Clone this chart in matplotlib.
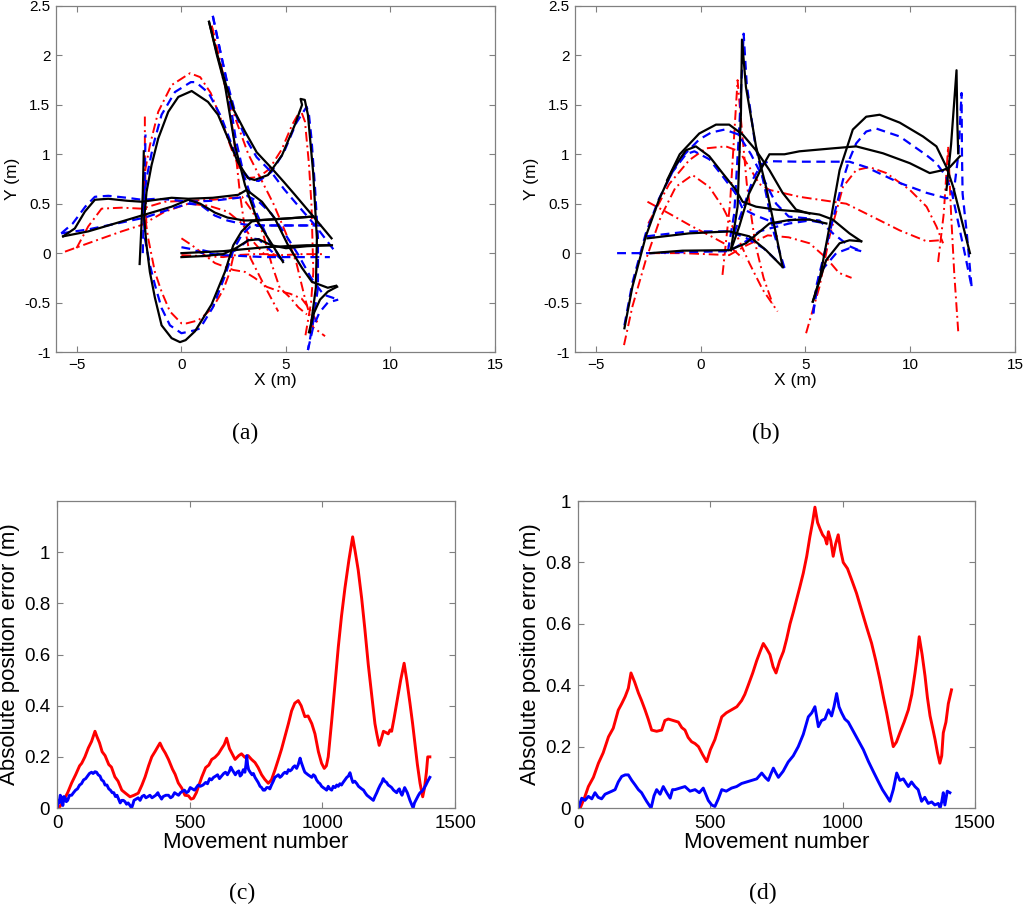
import matplotlib
matplotlib.use("Agg")
import matplotlib.pyplot as plt
from matplotlib.ticker import FormatStrFormatter

plt.rcParams['font.family'] = ['Liberation Sans', 'DejaVu Sans']

# ---- (a) trajectories: ground truth (black), estimate 1 (blue), estimate 2 (red)
a_true = [
    [(-5.66, 0.17), (-5.1, 0.25), (-4.62, 0.42), (-4.14, 0.54), (-3.5, 0.55), (-2.6, 0.53), (-1.9, 0.52),
     (-1.2, 0.54), (-0.47, 0.56), (0.33, 0.55), (1.5, 0.56), (2.72, 0.59), (3.12, 0.64), (3.85, 0.52),
     (4.47, 0.35), (5.1, 0.08), (5.77, -0.15), (6.24, -0.29), (7.0, -0.35), (7.4, -0.33)],
    [(-5.66, 0.17), (-4.46, 0.22), (-2.86, 0.32), (-1.75, 0.39), (-0.47, 0.47), (0.33, 0.54), (0.9, 0.5),
     (1.6, 0.41), (2.2, 0.36), (3.0, 0.33), (3.84, 0.335), (5.0, 0.35), (6.3, 0.37)],
    [(1.32, 2.34), (1.7, 2.0), (2.08, 1.7), (2.56, 1.09), (3.04, 0.69), (3.66, 0.315), (4.3, 0.1), (4.86, -0.09)],
    [(1.32, 2.34), (1.7, 2.02), (2.08, 1.74), (2.5, 1.45), (3.04, 1.23), (3.6, 1.02), (4.31, 0.86),
     (4.9, 0.72), (5.43, 0.59), (6.39, 0.35), (7.18, 0.15)],
    [(-2.0, -0.11), (-1.93, 0.2), (-1.85, 0.6), (-1.8, 1.03)],
    [(6.3, 0.37), (5.0, 0.35), (3.84, 0.335), (3.36, 0.32), (2.88, 0.22), (2.48, 0.08), (2.08, -0.19),
     (1.44, -0.52), (0.65, -0.79), (0.2, -0.88), (-0.07, -0.9), (-0.47, -0.86), (-0.95, -0.73),
     (-1.27, -0.45), (-1.51, -0.19), (-1.67, 0.08), (-1.78, 0.35), (-1.67, 0.62), (-1.43, 0.89),
     (-1.11, 1.16), (-0.63, 1.43), (-0.15, 1.58), (0.49, 1.64), (1.27, 1.53), (1.75, 1.40), (2.23, 1.16),
     (2.7, 0.92), (3.18, 0.76), (3.5, 0.74), (4.14, 0.79), (4.81, 0.99), (5.43, 1.30), (5.77, 1.50),
     (5.7, 1.56), (5.9, 1.55), (6.05, 1.4), (6.3, 0.82), (6.48, 0.15), (6.43, -0.35), (6.15, -0.80)],
    [(0.0, 0.0), (1.0, 0.01), (2.0, 0.02), (3.0, 0.04), (4.0, 0.06), (5.0, 0.07), (6.0, 0.08), (7.2, 0.08)],
    [(0.0, -0.04), (1.0, -0.03), (2.0, -0.01), (2.6, 0.05), (3.2, 0.13), (3.7, 0.14), (4.3, 0.08),
     (5.0, 0.05), (6.0, 0.07), (7.1, 0.08)],
    [(6.1, -0.8), (6.35, -0.6), (6.63, -0.47), (7.0, -0.39), (7.26, -0.36), (7.45, -0.34)],
]
a_est1 = [
    [(-5.75, 0.2), (-5.2, 0.3), (-4.6, 0.47), (-4.14, 0.57), (-3.5, 0.58), (-2.6, 0.56), (-1.9, 0.54),
     (-1.2, 0.55), (-0.47, 0.54), (0.33, 0.52), (1.5, 0.53), (2.72, 0.56), (3.12, 0.58), (3.7, 0.52),
     (4.3, 0.40), (5.0, 0.18), (5.6, -0.02), (6.2, -0.25), (6.8, -0.42), (7.5, -0.47)],
    [(-5.75, 0.2), (-4.46, 0.24), (-2.86, 0.31), (-1.75, 0.36), (-0.47, 0.45), (0.33, 0.5), (0.9, 0.49),
     (1.6, 0.38), (2.2, 0.33), (3.0, 0.29), (3.84, 0.28), (5.0, 0.28), (6.07, 0.28), (6.9, 0.28)],
    [(1.5, 2.4), (1.85, 2.05), (2.2, 1.7), (2.6, 1.15), (3.0, 0.78), (3.6, 0.4), (4.2, 0.12), (4.9, -0.1)],
    [(1.5, 2.4), (1.85, 2.05), (2.2, 1.72), (2.6, 1.4), (3.1, 1.15), (3.6, 0.97), (4.3, 0.82), (4.9, 0.65),
     (5.5, 0.5), (6.4, 0.28), (7.3, 0.03)],
    [(-1.85, 0.0), (-1.8, 0.4), (-1.75, 0.8), (-1.72, 1.2)],
    [(6.07, 0.28), (3.84, 0.28), (3.3, 0.27), (2.9, 0.19), (2.5, 0.04), (2.1, -0.22), (1.5, -0.55),
     (0.89, -0.76), (0.65, -0.78), (0.0, -0.81), (-0.55, -0.73), (-0.95, -0.555), (-1.27, -0.32),
     (-1.51, -0.12), (-1.75, 0.15), (-1.83, 0.49), (-1.67, 0.76), (-1.35, 1.09), (-0.95, 1.40),
     (-0.31, 1.63), (0.45, 1.73), (0.69, 1.73), (1.3, 1.62), (1.9, 1.38), (2.4, 1.1), (2.9, 0.84),
     (3.3, 0.74), (3.7, 0.73), (4.3, 0.82), (4.9, 1.02), (5.5, 1.32), (5.99, 1.48), (6.1, 1.4),
     (6.22, 1.16), (6.39, 0.66), (6.53, 0.15), (6.53, -0.35), (6.3, -0.7), (6.05, -0.98)],
    [(0.0, 0.06), (0.5, 0.04), (1.0, 0.0), (2.0, -0.02), (3.0, -0.03), (4.0, -0.04), (5.0, -0.04),
     (6.0, -0.04), (7.1, -0.04)],
    [(1.0, 0.03), (2.0, -0.02), (2.6, 0.03), (3.3, 0.15), (3.7, 0.14), (4.3, 0.02), (4.9, -0.08)],
    [(6.05, -0.98), (6.3, -0.75), (6.6, -0.6), (7.0, -0.5), (7.5, -0.47)],
]
a_est2 = [
    [(-5.02, 0.05), (-4.46, 0.27), (-3.82, 0.45), (-2.86, 0.46), (-1.9, 0.45), (-0.79, 0.52), (0.33, 0.53),
     (1.5, 0.54), (2.5, 0.56), (2.9, 0.57), (3.4, 0.42), (3.9, 0.2), (4.3, -0.1), (4.7, -0.35),
     (5.2, -0.45), (5.6, -0.55), (6.0, -0.62)],
    [(-5.57, 0.015), (-4.46, 0.10), (-2.86, 0.22), (-1.9, 0.285), (-0.79, 0.42), (0.33, 0.50), (1.3, 0.48),
     (2.2, 0.42), (2.9, 0.3), (3.5, 0.1), (4.0, -0.02), (4.8, -0.02), (5.8, -0.01), (6.9, -0.01)],
    [(1.45, 2.3), (1.9, 1.9), (2.3, 1.5), (2.6, 1.0), (2.8, 0.6), (3.0, 0.3), (3.3, -0.05), (3.9, -0.3),
     (4.63, -0.59)],
    [(1.45, 2.3), (2.0, 1.75), (2.6, 1.35), (3.2, 1.0), (3.8, 0.75), (4.4, 0.5), (5.0, 0.2), (5.5, -0.1),
     (5.9, -0.45), (6.3, -0.75), (6.87, -0.84)],
    [(-1.68, 0.3), (-1.72, 0.7), (-1.75, 1.0), (-1.75, 1.41)],
    [(2.48, -0.035), (2.3, -0.2), (2.0, -0.37), (1.5, -0.55), (1.2, -0.61), (0.8, -0.68), (0.25, -0.71),
     (0.0, -0.71), (-0.55, -0.59), (-0.95, -0.39), (-1.27, -0.19), (-1.59, 0.15), (-1.83, 0.49),
     (-1.75, 0.82), (-1.51, 1.09), (-1.11, 1.43), (-0.47, 1.70), (0.41, 1.82), (0.9, 1.78), (1.4, 1.62),
     (1.9, 1.35), (2.4, 1.05), (2.8, 0.85), (3.2, 0.76), (3.7, 0.77), (4.2, 0.85), (4.8, 1.05), (5.3, 1.3),
     (5.7, 1.45), (5.91, 1.33), (6.1, 0.9), (6.22, 0.49), (6.31, -0.19), (6.2, -0.5), (5.91, -0.86)],
    [(0.0, -0.02), (1.0, -0.03), (2.0, -0.04), (2.6, -0.02), (3.5, -0.01), (4.5, -0.01)],
    [(0.0, 0.15), (0.5, 0.08), (1.0, 0.0), (1.6, -0.1), (2.48, -0.17), (3.04, -0.19), (3.5, -0.25),
     (4.07, -0.34), (4.6, -0.38), (5.19, -0.41), (5.75, -0.46), (6.15, -0.57), (6.5, -0.7)],
]

# ---- (b) trajectories
b_true = [
    [(-3.64, -0.76), (-3.26, -0.34), (-2.62, 0.17), (-1.99, 0.54), (-1.35, 0.84), (-0.71, 1.04),
     (-0.23, 1.08), (0.41, 0.98), (1.04, 0.81), (1.68, 0.64), (2.0, 0.52), (2.64, 0.47), (3.6, 0.44),
     (4.71, 0.42), (5.67, 0.39), (6.3, 0.34), (7.1, 0.2), (7.66, 0.12)],
    [(-1.6, 0.74), (-1.0, 1.0), (-0.07, 1.21), (0.73, 1.30), (1.36, 1.30), (2.0, 1.2), (2.64, 1.04),
     (3.28, 0.84), (3.91, 0.61), (4.55, 0.44), (5.19, 0.40)],
    [(1.44, 0.03), (1.76, 0.47), (1.92, 1.41), (1.97, 2.16), (2.16, 1.68), (2.64, 1.08), (3.12, 0.67),
     (3.52, 0.27), (3.91, -0.14)],
    [(-2.54, 0.15), (-0.55, 0.20), (1.36, 0.22), (2.32, 0.17), (3.12, 0.03), (3.91, -0.14)],
    [(-2.4, 0.0), (-0.87, 0.025), (1.36, 0.03), (2.16, 0.1), (3.28, 0.3), (4.23, 0.335), (5.19, 0.34),
     (6.0, 0.3)],
    [(1.44, 0.03), (1.84, 0.27), (2.3, 0.6), (2.9, 0.86), (3.28, 1.0), (4.0, 1.0), (4.71, 1.03),
     (6.3, 1.06), (7.42, 1.08), (8.7, 1.01), (9.98, 0.91), (10.93, 0.81), (11.57, 0.84), (11.89, 0.87),
     (12.37, 0.98)],
    [(5.35, -0.49), (5.67, -0.27), (6.15, 0.27), (6.63, 0.84), (7.26, 1.25), (7.9, 1.38), (8.54, 1.40),
     (9.5, 1.32), (10.61, 1.18), (11.25, 1.08), (11.73, 0.87), (12.05, 0.67), (12.53, 0.27), (12.85, 0.0)],
    [(5.35, -0.49), (5.99, -0.07), (6.63, 0.1), (7.1, 0.13), (7.66, 0.12)],
    [(11.73, 0.64), (11.95, 1.1), (12.21, 1.85), (12.25, 1.3), (12.29, 1.01)],
]
b_est1 = [
    [(-3.64, -0.73), (-3.26, -0.30), (-2.62, 0.2), (-1.99, 0.55), (-1.35, 0.82), (-0.71, 1.0), (-0.3, 1.03),
     (0.41, 0.95), (1.04, 0.78), (1.68, 0.6), (2.0, 0.45), (2.64, 0.38), (3.6, 0.3), (4.71, 0.35),
     (5.67, 0.33), (6.31, 0.2), (7.1, 0.07), (7.66, 0.02)],
    [(-1.6, 0.72), (-1.0, 0.95), (-0.07, 1.15), (0.5, 1.22), (1.14, 1.25), (1.8, 1.2), (2.4, 1.0),
     (3.0, 0.75), (3.6, 0.5), (4.2, 0.37), (5.19, 0.35)],
    [(1.3, 0.02), (1.6, 0.4), (1.85, 1.3), (2.05, 2.22), (2.2, 1.7), (2.6, 1.1), (3.1, 0.62), (3.5, 0.2),
     (4.0, -0.15)],
    [(-2.6, 0.17), (-0.55, 0.22), (1.36, 0.22), (2.2, 0.15), (3.0, 0.05), (4.0, -0.15)],
    [(-3.99, 0.0), (-2.4, 0.0), (-0.87, 0.01), (1.36, 0.02), (2.16, 0.12), (2.8, 0.22), (3.3, 0.25),
     (4.23, 0.3), (5.19, 0.33), (6.0, 0.3)],
    [(1.6, 0.2), (2.1, 0.5), (2.5, 0.75), (2.9, 0.9), (3.28, 0.93), (4.71, 0.925), (7.1, 0.925), (7.9, 0.87),
     (9.5, 0.71), (10.78, 0.61), (11.73, 0.555), (12.05, 0.57)],
    [(5.37, -0.61), (5.51, -0.34), (6.31, 0.34), (6.79, 0.74), (7.1, 0.95), (7.42, 1.11), (7.9, 1.23),
     (8.38, 1.26), (9.5, 1.18), (10.78, 0.99), (11.25, 0.91), (11.73, 0.77), (12.0, 0.6), (12.3, 0.3),
     (12.6, 0.0), (12.93, -0.34)],
    [(5.37, -0.61), (5.67, -0.2), (6.47, 0.0), (7.1, 0.05), (7.66, 0.02)],
    [(12.05, 0.57), (12.3, 1.0), (12.45, 1.62), (12.47, 1.0), (12.5, 0.6), (12.7, 0.2), (12.93, -0.34)],
]
b_est2 = [
    [(-3.66, -0.93), (-3.26, -0.54), (-2.62, -0.07), (-1.9, 0.37), (-1.19, 0.67), (-0.39, 0.79),
     (0.41, 0.67), (1.04, 0.47), (1.68, 0.20), (2.32, -0.10), (2.96, -0.37), (3.67, -0.59)],
    [(-2.5, 0.3), (-1.5, 0.7), (-0.55, 0.94), (0.25, 1.06), (1.2, 1.08), (1.84, 1.03), (2.32, 0.87),
     (2.8, 0.7), (3.28, 0.64), (4.71, 0.57), (6.95, 0.5), (7.9, 0.40), (9.5, 0.23), (10.78, 0.12),
     (11.41, 0.13)],
    [(1.04, -0.22), (1.4, 0.5), (1.6, 1.2), (1.76, 1.75), (1.9, 1.4), (2.2, 0.7), (2.6, 0.1), (3.0, -0.25),
     (3.43, -0.51)],
    [(-2.54, 0.52), (-1.5, 0.4), (-0.5, 0.28), (0.5, 0.17), (1.36, 0.07), (2.0, -0.05)],
    [(-2.4, 0.0), (-0.87, 0.0), (1.36, -0.02), (2.2, 0.08), (3.2, 0.18), (4.2, 0.16), (5.19, 0.1),
     (6.0, -0.05), (6.6, -0.2), (7.2, -0.25)],
    [(5.03, -0.81), (5.67, -0.34), (6.15, 0.17), (6.79, 0.67), (7.42, 0.84), (8.06, 0.87), (8.86, 0.81),
     (9.98, 0.64), (10.78, 0.47), (11.25, 0.27), (11.57, 0.1)],
    [(11.33, -0.09), (11.6, 0.4), (11.81, 1.08), (11.95, 0.4), (12.1, -0.2), (12.29, -0.79)],
]

# ---- (c) absolute position error
c_red_x = [0, 10, 20, 30, 40, 55, 70, 85, 93, 105, 118, 130, 143, 150, 160, 170, 181, 195, 205, 218, 230,
           244, 258, 275, 290, 306, 320, 332, 345, 357, 370, 380, 388, 398, 408, 420, 435, 445, 457, 470,
           482, 495, 505, 514, 525, 535, 545, 560, 572, 583, 595, 608, 620, 630, 639, 650, 660, 671, 685,
           695, 708, 720, 733, 746, 758, 771, 783, 796, 808, 821, 834, 846, 859, 872, 884, 896, 909, 920,
           934, 946, 960, 972, 985, 997, 1007, 1015, 1022, 1035, 1048, 1060, 1072, 1085, 1100, 1114, 1124,
           1135, 1148, 1160, 1173, 1186, 1198, 1205, 1214, 1222, 1230, 1240, 1248, 1255, 1261, 1270, 1280,
           1295, 1308, 1318, 1330, 1340, 1349, 1358, 1368, 1378, 1385, 1392, 1397, 1405]
c_red_y = [0.0, 0.005, 0.02, 0.04, 0.06, 0.098, 0.13, 0.165, 0.175, 0.20, 0.235, 0.26, 0.30, 0.28, 0.255,
           0.22, 0.205, 0.17, 0.16, 0.122, 0.105, 0.07, 0.058, 0.044, 0.05, 0.058, 0.09, 0.122, 0.165, 0.20,
           0.222, 0.24, 0.254, 0.232, 0.215, 0.19, 0.152, 0.132, 0.098, 0.078, 0.05, 0.048, 0.035, 0.038,
           0.06, 0.09, 0.12, 0.158, 0.168, 0.19, 0.198, 0.212, 0.232, 0.248, 0.273, 0.232, 0.212, 0.19,
           0.205, 0.212, 0.198, 0.205, 0.19, 0.178, 0.158, 0.13, 0.112, 0.097, 0.11, 0.148, 0.19, 0.23, 0.28,
           0.33, 0.38, 0.41, 0.42, 0.40, 0.357, 0.36, 0.33, 0.29, 0.22, 0.175, 0.155, 0.165, 0.20, 0.34,
           0.49, 0.63, 0.75, 0.86, 0.97, 1.06, 1.0, 0.93, 0.82, 0.70, 0.56, 0.44, 0.33, 0.29, 0.245, 0.27,
           0.30, 0.295, 0.29, 0.305, 0.30, 0.35, 0.41, 0.50, 0.566, 0.50, 0.41, 0.33, 0.25, 0.17, 0.097,
           0.044, 0.08, 0.14, 0.20, 0.20]
c_blue_x = [0, 5, 8, 12, 15, 19, 22, 26, 30, 35, 40, 47, 55, 62, 70, 77, 85, 92, 100, 108, 115, 122, 130,
            136, 143, 149, 155, 162, 168, 175, 181, 188, 195, 201, 208, 214, 220, 226, 232, 238, 244, 250,
            256, 262, 268, 275, 281, 286, 290, 298, 306, 313, 320, 328, 335, 343, 350, 358, 365, 372, 380,
            384, 388, 394, 400, 410, 420, 428, 435, 443, 450, 458, 465, 472, 480, 488, 495, 502, 510, 518,
            525, 532, 540, 550, 560, 567, 575, 582, 590, 598, 605, 612, 620, 628, 635, 642, 650, 655, 660,
            666, 672, 678, 685, 690, 695, 702, 708, 712, 715, 718, 722, 728, 735, 740, 746, 752, 758, 765,
            771, 777, 783, 790, 796, 802, 808, 815, 821, 828, 834, 840, 846, 853, 859, 866, 872, 878, 884,
            890, 896, 903, 909, 913, 916, 920, 925, 930, 934, 940, 946, 953, 960, 966, 972, 978, 985, 991,
            997, 1003, 1010, 1016, 1022, 1028, 1035, 1041, 1048, 1054, 1060, 1066, 1072, 1078, 1085, 1092,
            1098, 1104, 1110, 1115, 1122, 1130, 1136, 1142, 1148, 1155, 1161, 1168, 1174, 1180, 1186, 1192,
            1198, 1205, 1211, 1218, 1224, 1229, 1235, 1242, 1248, 1255, 1261, 1268, 1274, 1280, 1285, 1290,
            1295, 1300, 1305, 1310, 1315, 1320, 1325, 1330, 1336, 1342, 1347, 1352, 1357, 1362, 1368, 1375,
            1382, 1390, 1397, 1405]
c_blue_y = [0.0, 0.03, 0.02, 0.05, 0.045, 0.02, 0.01, 0.045, 0.04, 0.025, 0.03, 0.05, 0.05, 0.06, 0.07,
            0.075, 0.09, 0.095, 0.11, 0.115, 0.125, 0.135, 0.14, 0.135, 0.142, 0.14, 0.13, 0.125, 0.11, 0.105,
            0.09, 0.09, 0.075, 0.07, 0.06, 0.06, 0.045, 0.05, 0.035, 0.02, 0.03, 0.03, 0.025, 0.015, 0.02,
            0.01, 0.0, 0.015, 0.03, 0.035, 0.04, 0.03, 0.045, 0.05, 0.04, 0.045, 0.05, 0.04, 0.045, 0.05,
            0.06, 0.05, 0.045, 0.035, 0.045, 0.05, 0.05, 0.04, 0.045, 0.06, 0.055, 0.05, 0.06, 0.065, 0.07,
            0.06, 0.065, 0.08, 0.075, 0.07, 0.08, 0.09, 0.085, 0.09, 0.10, 0.095, 0.115, 0.11, 0.12, 0.125,
            0.13, 0.115, 0.125, 0.135, 0.14, 0.13, 0.145, 0.16, 0.15, 0.14, 0.13, 0.14, 0.145, 0.125, 0.13,
            0.15, 0.14, 0.17, 0.205, 0.17, 0.15, 0.14, 0.13, 0.135, 0.12, 0.11, 0.10, 0.085, 0.08, 0.07,
            0.07, 0.08, 0.08, 0.075, 0.09, 0.105, 0.12, 0.125, 0.13, 0.12, 0.125, 0.135, 0.14, 0.135, 0.15,
            0.145, 0.15, 0.16, 0.165, 0.155, 0.17, 0.185, 0.195, 0.18, 0.165, 0.15, 0.14, 0.135, 0.13, 0.125,
            0.12, 0.13, 0.125, 0.11, 0.10, 0.095, 0.085, 0.08, 0.075, 0.07, 0.085, 0.075, 0.07, 0.085, 0.08,
            0.09, 0.085, 0.095, 0.09, 0.10, 0.11, 0.12, 0.125, 0.138, 0.115, 0.10, 0.105, 0.095, 0.085, 0.08,
            0.075, 0.07, 0.06, 0.05, 0.045, 0.04, 0.035, 0.03, 0.045, 0.06, 0.075, 0.09, 0.10, 0.115, 0.105,
            0.10, 0.09, 0.085, 0.08, 0.07, 0.065, 0.06, 0.07, 0.075, 0.06, 0.05, 0.065, 0.08, 0.07, 0.06,
            0.045, 0.03, 0.015, 0.0, 0.02, 0.03, 0.04, 0.05, 0.06, 0.065, 0.075, 0.09, 0.105, 0.12]

# ---- (d) absolute position error
d_red_x = [8, 25, 39, 58, 77, 95, 115, 133, 152, 165, 178, 190, 200, 214, 228, 240, 253, 265, 278, 297,
           316, 328, 341, 360, 379, 392, 404, 416, 429, 442, 455, 470, 486, 500, 517, 530, 543, 560, 580,
           600, 618, 630, 643, 660, 675, 688, 700, 712, 725, 737, 748, 762, 776, 788, 801, 814, 826, 838,
           851, 864, 876, 886, 895, 905, 914, 924, 933, 940, 946, 955, 964, 973, 983, 992, 1002, 1018, 1034,
           1052, 1071, 1090, 1109, 1125, 1141, 1154, 1166, 1179, 1191, 1203, 1216, 1232, 1248, 1261, 1273,
           1282, 1289, 1300, 1311, 1320, 1330, 1340, 1349, 1358, 1367, 1374, 1380, 1390, 1399, 1411]
d_red_y = [0.0, 0.035, 0.07, 0.10, 0.146, 0.18, 0.232, 0.26, 0.319, 0.34, 0.363, 0.39, 0.44, 0.41, 0.375,
           0.35, 0.32, 0.29, 0.254, 0.25, 0.254, 0.285, 0.29, 0.285, 0.28, 0.262, 0.254, 0.23, 0.216, 0.21,
           0.2, 0.175, 0.151, 0.19, 0.223, 0.26, 0.297, 0.31, 0.32, 0.33, 0.35, 0.37, 0.40, 0.44, 0.48, 0.51,
           0.536, 0.52, 0.50, 0.46, 0.44, 0.48, 0.51, 0.55, 0.60, 0.64, 0.68, 0.72, 0.765, 0.82, 0.884, 0.93,
           0.98, 0.93, 0.91, 0.89, 0.88, 0.86, 0.90, 0.87, 0.82, 0.86, 0.89, 0.84, 0.80, 0.78, 0.743, 0.70,
           0.645, 0.59, 0.537, 0.48, 0.417, 0.36, 0.31, 0.25, 0.20, 0.215, 0.245, 0.28, 0.32, 0.37, 0.44,
           0.50, 0.558, 0.50, 0.43, 0.36, 0.30, 0.26, 0.223, 0.18, 0.146, 0.17, 0.245, 0.28, 0.34, 0.385]
d_blue_x = [1, 14, 26, 39, 52, 64, 76, 89, 102, 115, 128, 140, 152, 165, 178, 190, 203, 215, 228, 240, 250,
            259, 276, 287, 297, 310, 322, 335, 348, 357, 366, 385, 404, 423, 442, 458, 473, 492, 505, 517,
            530, 543, 560, 580, 599, 618, 637, 656, 675, 694, 707, 719, 728, 738, 747, 757, 775, 794, 813,
            832, 851, 870, 883, 895, 908, 920, 933, 946, 958, 967, 977, 986, 996, 1008, 1021, 1040, 1059,
            1078, 1097, 1115, 1134, 1150, 1165, 1178, 1191, 1204, 1216, 1229, 1240, 1248, 1260, 1273, 1285,
            1298, 1310, 1323, 1336, 1348, 1361, 1368, 1374, 1380, 1386, 1395, 1405]
d_blue_y = [0.0, 0.032, 0.025, 0.038, 0.03, 0.05, 0.035, 0.03, 0.045, 0.05, 0.055, 0.06, 0.085, 0.103,
            0.108, 0.108, 0.09, 0.076, 0.06, 0.05, 0.035, 0.022, 0.0, 0.04, 0.06, 0.045, 0.07, 0.05, 0.032,
            0.06, 0.06, 0.065, 0.07, 0.055, 0.06, 0.05, 0.065, 0.025, 0.01, 0.005, 0.03, 0.06, 0.055, 0.065,
            0.07, 0.08, 0.085, 0.09, 0.095, 0.114, 0.10, 0.09, 0.11, 0.13, 0.115, 0.10, 0.12, 0.15, 0.17,
            0.2, 0.24, 0.297, 0.31, 0.33, 0.265, 0.285, 0.29, 0.32, 0.30, 0.33, 0.373, 0.33, 0.31, 0.29, 0.28,
            0.25, 0.22, 0.19, 0.152, 0.12, 0.087, 0.06, 0.04, 0.022, 0.06, 0.114, 0.09, 0.095, 0.08, 0.07,
            0.085, 0.07, 0.06, 0.022, 0.035, 0.015, 0.02, 0.01, 0.015, 0.0, 0.02, 0.05, 0.01, 0.055, 0.05]

GRAY = '#808080'


def style_axes(ax, tick_size):
    for sp in ax.spines.values():
        sp.set_color(GRAY)
        sp.set_linewidth(0.9)
    ax.tick_params(direction='in', top=True, right=True, length=4, width=0.8,
                   color=GRAY, labelcolor='k', labelsize=tick_size, pad=4)


def draw_paths(ax, paths, **kw):
    for p in paths:
        xs = [q[0] for q in p]
        ys = [q[1] for q in p]
        ax.plot(xs, ys, **kw)


fig = plt.figure(figsize=(10.24, 9.07), dpi=100)

top_axes = [
    fig.add_axes([0.0547, 0.6119, 0.4287, 0.3815]),
    fig.add_axes([0.5615, 0.6119, 0.4297, 0.3815]),
]
for ax, truth, est1, est2 in zip(top_axes, [a_true, b_true], [a_est1, b_est1], [a_est2, b_est2]):
    draw_paths(ax, est2, color='r', lw=1.4, linestyle=(0, (5, 2, 1, 2)))
    draw_paths(ax, est1, color='b', lw=1.6, linestyle=(0, (4, 2.5)))
    draw_paths(ax, truth, color='k', lw=1.6)
    ax.set_xlim(-6, 15)
    ax.set_ylim(-1, 2.5)
    ax.set_xticks([-5, 0, 5, 10, 15])
    ax.set_yticks([-1, -0.5, 0, 0.5, 1, 1.5, 2, 2.5])
    ax.yaxis.set_major_formatter(FormatStrFormatter('%g'))
    style_axes(ax, 11)
    ax.set_xlabel('X (m)', fontsize=12.5, labelpad=1)
    ax.set_ylabel('Y (m)', fontsize=12.5, labelpad=3)

ax_c = fig.add_axes([0.0557, 0.1091, 0.3887, 0.3385])
ax_c.plot(c_red_x, c_red_y, color='r', lw=2.1)
ax_c.plot(c_blue_x, c_blue_y, color='b', lw=2.1)
ax_c.set_ylim(0, 1.2)
ax_c.set_yticks([0, 0.2, 0.4, 0.6, 0.8, 1.0])

ax_d = fig.add_axes([0.5645, 0.1091, 0.3877, 0.3385])
ax_d.plot(d_red_x, d_red_y, color='r', lw=2.1)
ax_d.plot(d_blue_x, d_blue_y, color='b', lw=2.1)
ax_d.set_ylim(0, 1)
ax_d.set_yticks([0, 0.2, 0.4, 0.6, 0.8, 1.0])

for ax in (ax_c, ax_d):
    ax.set_xlim(0, 1500)
    ax.set_xticks([0, 500, 1000, 1500])
    ax.yaxis.set_major_formatter(FormatStrFormatter('%g'))
    style_axes(ax, 13.5)
    ax.tick_params(pad=5)
    ax.set_xlabel('Movement number', fontsize=16, labelpad=0)
    ax.set_ylabel('Absolute position error (m)', fontsize=16, labelpad=3)

caps = [('(a)', 245 / 1024, 1 - 433 / 907), ('(b)', 766 / 1024, 1 - 433 / 907),
        ('(c)', 242 / 1024, 1 - 893 / 907), ('(d)', 763 / 1024, 1 - 893 / 907)]
for txt, x, y in caps:
    fig.text(x, y, txt, ha='center', va='center', fontsize=17, family=['Liberation Serif', 'DejaVu Serif'])

fig.savefig('out.png', dpi=100)
